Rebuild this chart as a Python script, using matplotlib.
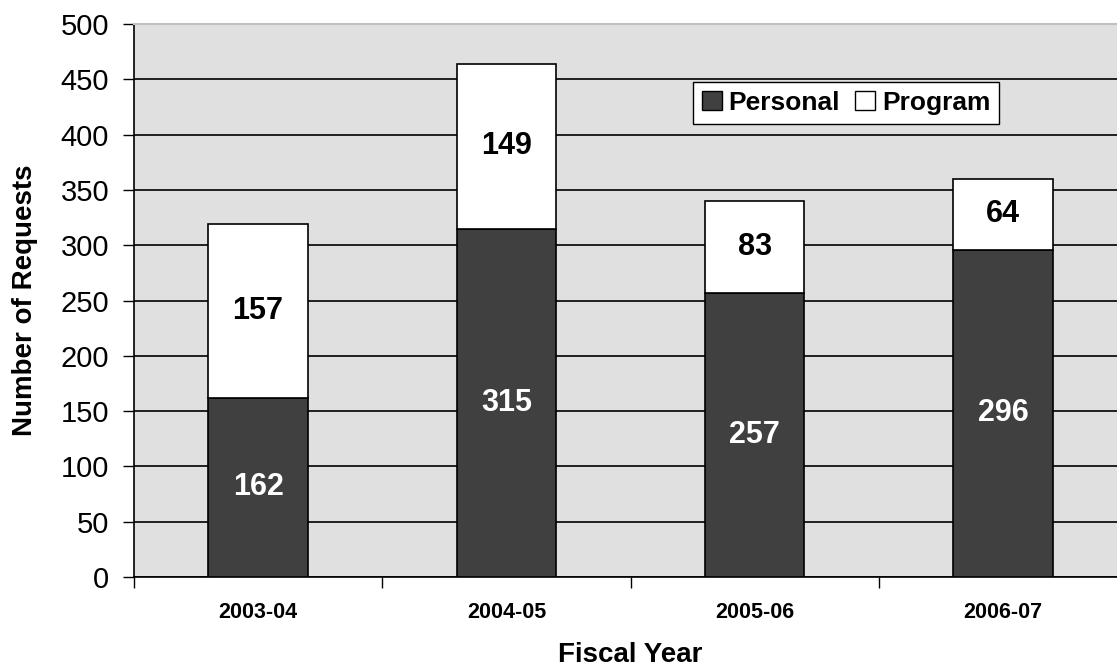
import numpy as np
import matplotlib
matplotlib.use("Agg")
import matplotlib.pyplot as plt
from matplotlib.patches import Patch

# data
years = ["2003-04", "2004-05", "2005-06", "2006-07"]
personal = [162, 315, 257, 296]
program = [157, 149, 83, 64]
y_ticks = [0, 50, 100, 150, 200, 250, 300, 350, 400, 450, 500]

plt.rcParams['font.family'] = ['Liberation Sans', 'DejaVu Sans']

fig = plt.figure(figsize=(11.17, 6.71), dpi=100)
ax = fig.add_axes([134 / 1117, 94 / 671, 993 / 1117, 553 / 671])
ax.set_facecolor("#e0e0e0")

x = np.arange(len(years))
width = 0.40
dark = "#404040"

ax.set_axisbelow(True)
ax.yaxis.grid(True, color="black", linewidth=1.2)

ax.bar(x, personal, width, color=dark, edgecolor="black", linewidth=1.2, zorder=3)
ax.bar(x, program, width, bottom=personal, color="white", edgecolor="black", linewidth=1.2, zorder=3)

for i in range(len(years)):
    ax.text(x[i], personal[i] / 2, str(personal[i]), ha="center", va="center",
            color="white", fontsize=22, fontweight="bold", zorder=4)
    ax.text(x[i], personal[i] + program[i] / 2, str(program[i]), ha="center", va="center",
            color="black", fontsize=22, fontweight="bold", zorder=4)

ax.set_xlim(-0.5, len(years) - 0.5)
ax.set_ylim(0, 500)
ax.set_yticks(y_ticks)
ax.set_yticklabels([str(v) for v in y_ticks], fontsize=21)
ax.tick_params(axis="y", direction="out", length=8, width=1, pad=10)

ax.set_xticks(x)
ax.set_xticklabels(years, fontsize=15.5, fontweight="bold")
ax.tick_params(axis="x", which="major", length=0, pad=18)
ax.set_xticks(np.arange(-0.5, len(years), 1.0), minor=True)
ax.tick_params(axis="x", which="minor", direction="out", length=8, width=1)

ax.spines["top"].set_color("#c0c0c0")
ax.spines["top"].set_linewidth(1.5)
ax.spines["right"].set_visible(False)
ax.spines["left"].set_linewidth(1.2)
ax.spines["bottom"].set_linewidth(1.2)

# axis titles placed in figure pixels to match the reference
fig.text(630 / 1117, 1 - 655 / 671, "Fiscal Year", ha="center", va="center",
         fontsize=20, fontweight="bold")
ax.set_ylabel("Number of Requests", fontsize=20, fontweight="bold", labelpad=16)

handles = [Patch(facecolor=dark, edgecolor="black", label="Personal"),
           Patch(facecolor="white", edgecolor="black", label="Program")]
leg = ax.legend(handles=handles, ncol=2, loc="center",
                bbox_to_anchor=(846 / 1117, 1 - 103 / 671), bbox_transform=fig.transFigure,
                fancybox=False, edgecolor="black", framealpha=1,
                prop={"size": 19, "weight": "bold"},
                handlelength=0.75, handleheight=0.75, handletextpad=0.25,
                columnspacing=0.6, borderpad=0.35, borderaxespad=0)
leg.get_frame().set_linewidth(1.0)

fig.savefig("out.png", dpi=100)
